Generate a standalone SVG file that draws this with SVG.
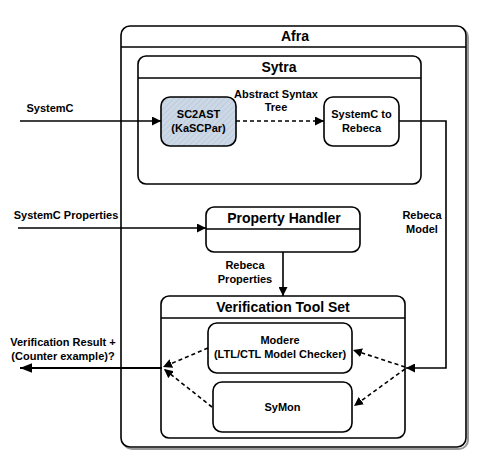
<svg xmlns="http://www.w3.org/2000/svg" width="478" height="460" viewBox="0 0 478 460">
<style>
.box{fill:#fff;stroke:#000;stroke-width:1.6}
.ln{stroke:#000;stroke-width:1.6;fill:none}
.t{font-family:"Liberation Sans",Arial,sans-serif;font-weight:bold;fill:#000;text-anchor:middle}
.ti{font-size:14px}
.tx{font-size:11px}
.lb{font-size:11px}
.dash{stroke-dasharray:4 3}
</style>
<defs>
<marker id="ah" viewBox="0 0 10 10" refX="10" refY="5" markerWidth="9" markerHeight="9" markerUnits="userSpaceOnUse" orient="auto">
<path d="M0,0 L10,5 L0,10 Z" fill="#000"/>
</marker>
<marker id="ahb" viewBox="0 0 10 10" refX="10" refY="5" markerWidth="12" markerHeight="12" markerUnits="userSpaceOnUse" orient="auto">
<path d="M0,1 L10,5 L0,9 Z" fill="#000"/>
</marker>
<pattern id="hatch" width="4" height="4" patternUnits="userSpaceOnUse" patternTransform="rotate(45)">
<rect width="4" height="4" fill="#ccd8e6"/>
<line x1="0" y1="0" x2="0" y2="4" stroke="#b4c2d4" stroke-width="1.2"/>
</pattern>
</defs>
<rect width="478" height="460" fill="#fff"/>

<g id="afra">
<rect x="123" y="28" width="345" height="421" rx="9" fill="none" stroke="#999" stroke-width="2"/>
<rect x="121" y="26" width="345" height="421" rx="9" class="box"/>
<line x1="121" y1="47" x2="466" y2="47" class="ln"/>
<text x="295" y="41" class="t ti">Afra</text>
</g>

<g id="sytra">
<rect x="138" y="56" width="283" height="128" rx="8" class="box"/>
<line x1="138" y1="78" x2="421" y2="78" class="ln"/>
<text x="279" y="72" class="t ti">Sytra</text>
</g>

<g id="sc2ast">
<rect x="161" y="97" width="75" height="49" rx="9" fill="url(#hatch)" stroke="#000" stroke-width="1.6"/>
<text x="198.5" y="118" class="t tx">SC2AST</text>
<text x="198.5" y="132" class="t tx">(KaSCPar)</text>
</g>

<g id="sc2rebeca">
<rect x="324" y="97" width="75" height="49" rx="9" class="box"/>
<text x="361.5" y="118" class="t tx">SystemC to</text>
<text x="361.5" y="132" class="t tx">Rebeca</text>
</g>

<g id="property-handler">
<rect x="206" y="207" width="154" height="45" rx="8" class="box"/>
<line x1="206" y1="229" x2="360" y2="229" class="ln"/>
<text x="284" y="223" class="t ti">Property Handler</text>
</g>

<g id="verification-tool-set">
<rect x="161" y="296" width="244" height="142" rx="8" class="box"/>
<line x1="161" y1="318" x2="405" y2="318" class="ln"/>
<text x="283" y="312" class="t ti">Verification Tool Set</text>
</g>

<g id="modere">
<rect x="208" y="323" width="144" height="50" rx="9" class="box"/>
<text x="280" y="344" class="t tx">Modere</text>
<text x="280" y="358" class="t tx">(LTL/CTL Model Checker)</text>
</g>

<g id="symon">
<rect x="213" y="382" width="139" height="50" rx="9" class="box"/>
<text x="282.5" y="411" class="t tx">SyMon</text>
</g>

<g id="connectors">
<line x1="20" y1="121" x2="161" y2="121" class="ln" marker-end="url(#ah)"/>
<line x1="236" y1="121" x2="324" y2="121" class="ln dash" marker-end="url(#ah)"/>
<polyline points="399,121 446,121 446,368 406,368" class="ln" marker-end="url(#ah)"/>
<line x1="18" y1="228" x2="206" y2="228" class="ln" marker-end="url(#ah)"/>
<line x1="283" y1="252" x2="283" y2="296" class="ln" marker-end="url(#ah)"/>
<line x1="405" y1="367" x2="353" y2="350" class="ln dash" marker-end="url(#ah)"/>
<line x1="405" y1="369" x2="354" y2="406" class="ln dash" marker-end="url(#ah)"/>
<line x1="208" y1="348" x2="163" y2="367" class="ln dash" marker-end="url(#ah)"/>
<line x1="212" y1="407" x2="164" y2="369" class="ln dash" marker-end="url(#ah)"/>
<line x1="162" y1="368" x2="20" y2="368" stroke="#000" stroke-width="2.2" marker-end="url(#ahb)"/>
</g>

<g id="labels">
<text x="50" y="112" class="t lb">SystemC</text>
<text x="276" y="98" class="t lb">Abstract Syntax</text>
<text x="276" y="111" class="t lb">Tree</text>
<text x="66" y="219" class="t lb">SystemC Properties</text>
<text x="422" y="219" class="t lb">Rebeca</text>
<text x="422" y="233" class="t lb">Model</text>
<text x="245" y="269" class="t lb">Rebeca</text>
<text x="245" y="283" class="t lb">Properties</text>
<text x="63" y="346" class="t lb">Verification Result +</text>
<text x="63" y="360" class="t lb">(Counter example)?</text>
</g>
</svg>
